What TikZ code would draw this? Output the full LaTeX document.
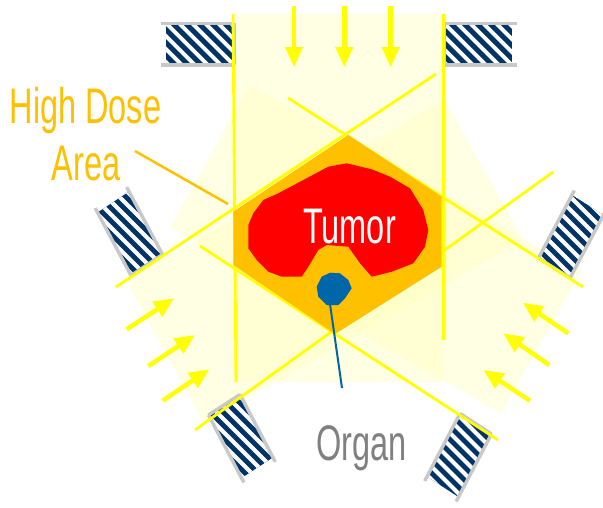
\documentclass[tikz,border=0pt]{standalone}
\usepackage{fontspec}
\newfontfamily\labelfont[FakeStretch=0.65]{Liberation Sans}
\usetikzlibrary{arrows.meta,calc}

\definecolor{beamyellow}{RGB}{255,255,0}
\definecolor{paleyellow}{RGB}{255,255,190}
\definecolor{doseorange}{RGB}{255,192,0}
\definecolor{tumorred}{RGB}{255,0,0}
\definecolor{organblue}{RGB}{0,102,170}
\definecolor{leafnavy}{RGB}{0,51,102}
\definecolor{leafgray}{RGB}{200,200,200}
\definecolor{labelgray}{RGB}{128,128,128}

% collimator leaf block: #1 beam-side corner, #2 long vector (outward), #3 short vector
\newcommand\leafblock[3]{%
  \path (#1) coordinate (q0) ++(#2) coordinate (q1) ++(#3) coordinate (q2);
  \path (#1) ++(#3) coordinate (q3);
  \coordinate (qc) at ($(q0)!0.5!(q2)$);
  \begin{scope}
    \clip (q0) -- (q1) -- (q2) -- (q3) -- cycle;
    \fill[leafnavy] (q0) -- (q1) -- (q2) -- (q3) -- cycle;
    \foreach \k in {-130,-117,...,130}
      \draw[white, line width=4pt] ($(qc)+(\k-70,-70)$) -- ++(140,140);
  \end{scope}
  \draw[leafgray, line width=3.4pt] (q0) -- ($(q0)!1.07!(q1)$);
  \draw[leafgray, line width=3.4pt] (q3) -- ($(q3)!1.07!(q2)$);
  \draw[leafgray, line width=3.4pt] (q0) -- (q3);
}

\begin{document}
\begin{tikzpicture}[x=1pt,y=-1pt,
  beamfill/.style={fill=paleyellow, fill opacity=0.42},
  edgeline/.style={draw=beamyellow, line width=2.8pt},
  beamarrow/.style={draw=beamyellow, line width=4.5pt,
    -{Triangle[length=20pt,width=17pt]}},
  labeltext/.style={font=\labelfont\fontsize{50}{57}\selectfont, inner sep=0pt, anchor=base}]

\useasboundingbox (0,0) rectangle (603,507);
\fill[white] (0,0) rectangle (603,507);

% radiation fields
\fill[beamfill] (233,14) rectangle (443,382);
\fill[beamfill] (126,280) -- (204,423) -- (523,240) -- (445,100) -- cycle;
\fill[beamfill] (250,85) -- (170,227) -- (501,413) -- (581,271) -- cycle;

% collimator leaves
\leafblock{234,23.3}{-68,0}{0,41.7}
\leafblock{444,23.3}{68,0}{0,41.7}
\leafblock{162.5,254.5}{-33.5,-63}{-31.5,21}
\leafblock{240,394.5}{33,63}{-31.5,20.5}
\leafblock{538.5,258}{33.5,-63}{31.5,20}
\leafblock{460,413.5}{-33,63}{31.5,20.5}

% field edges
\coordinate (v1a) at (233,14);   \coordinate (v1b) at (236,382);
\coordinate (v2a) at (443.3,14); \coordinate (v2b) at (443.3,340);
\coordinate (l1a) at (116,287);  \coordinate (l1b) at (436,74);
\coordinate (l2a) at (195,430);  \coordinate (l2b) at (553,172);
\coordinate (r1a) at (288,98);   \coordinate (r1b) at (583,287);
\coordinate (r2a) at (200,246);  \coordinate (r2b) at (498,440);
\draw[edgeline] (v1a) -- (v1b);
\draw[edgeline] (v2a) -- (v2b);
\draw[edgeline] (l1a) -- (l1b);
\draw[edgeline] (l2a) -- (l2b);
\draw[edgeline] (r1a) -- (r1b);
\draw[edgeline] (r2a) -- (r2b);

% high dose area
\fill[doseorange] (348.3,135) -- (233.3,211.7) -- (233.3,265) -- (335,334)
  -- (441.7,266.7) -- (441.7,196.7) -- cycle;

% tumor
\fill[tumorred] (346.7,163.3) -- (371.7,169.3) -- (390,176.7) -- (410,188.3)
  -- (423.3,210) -- (428.3,230) -- (425,246.7) -- (413.3,263.3) -- (391.7,271.7)
  -- (371.7,276.7) -- (360,263.3) -- (348.3,246.7) -- (326.7,245) -- (318.3,250)
  -- (308.3,266.7) -- (301.7,276.7) -- (281.7,276.7) -- (268.3,271.7)
  -- (256.7,260) -- (248.3,248.3) -- (248.3,225) -- (253.3,213.3) -- (263.3,200)
  -- (278.3,193.3) -- (303.3,180) -- (328.3,166.7) -- cycle;

% organ at risk
\fill[organblue] (330,272.7) -- (340,273.3) -- (348.3,280) -- (351.7,288.3)
  -- (345,298.3) -- (338.3,305) -- (326.7,305) -- (318.3,296.7) -- (316.7,286.7)
  -- (321.7,276.7) -- cycle;
\coordinate (organfoot) at (330,304);
\coordinate (organlead) at (342,388);
\draw[organblue, line width=2pt] (organfoot) -- (organlead);

% incoming beams
\coordinate (ta1) at (294,6);     \coordinate (tb1) at (294,67);
\coordinate (ta2) at (344.3,6);   \coordinate (tb2) at (344.3,67);
\coordinate (ta3) at (390.7,6);   \coordinate (tb3) at (390.7,67);
\coordinate (la1) at (126.7,329.3); \coordinate (lb1) at (174,298.3);
\coordinate (la2) at (148.3,366);   \coordinate (lb2) at (195,335);
\coordinate (la3) at (162.7,400.7); \coordinate (lb3) at (209.3,369.3);
\coordinate (ra1) at (568.3,333.3); \coordinate (rb1) at (522.7,302.7);
\coordinate (ra2) at (549.3,365);   \coordinate (rb2) at (503.3,333.3);
\coordinate (ra3) at (530,400.7);   \coordinate (rb3) at (483.3,370);
\foreach \s in {t,l,r}
  \foreach \i in {1,2,3}
    \draw[beamarrow] (\s a\i) -- (\s b\i);

% labels
\node[labeltext, text=white] (tumor) at (349.5,243) {Tumor};
\node[labeltext, text=labelgray] (organ) at (361.7,460) {Organ};
\node[labeltext, text=doseorange] (highdose) at (85.5,123) {High Dose};
\node[labeltext, text=doseorange] (area) at (86,180) {Area};
\coordinate (doselead) at (135,151);
\coordinate (dosetip) at (228,204);
\draw[doseorange, line width=2.5pt] (doselead) -- (dosetip);

\end{tikzpicture}
\end{document}
